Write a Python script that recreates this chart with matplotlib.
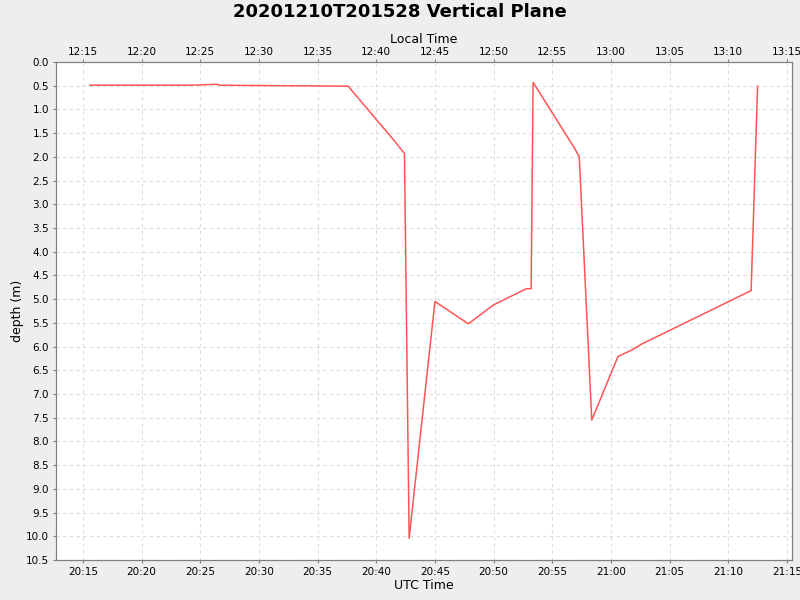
import matplotlib
matplotlib.use("Agg")
import matplotlib.pyplot as plt
import matplotlib.dates as mdates
import numpy as np
from datetime import datetime, timedelta

# 時刻 (UTC) と深度
utc_times = ["20:15:36", "20:24:00", "20:26:30", "20:26:36", "20:37:36",
             "20:41:30", "20:42:24", "20:42:48", "20:45:00", "20:47:51",
             "20:50:00", "20:52:48", "20:53:12", "20:53:22", "20:56:54",
             "20:57:18", "20:58:22", "21:00:36", "21:01:48", "21:02:36",
             "21:11:57", "21:12:30"]
depths = [0.49, 0.49, 0.47, 0.49, 0.51,
          1.65, 1.93, 10.04, 5.05, 5.52,
          5.12, 4.78, 4.78, 0.43, 1.82,
          2.00, 7.55, 6.21, 6.07, 5.95,
          4.82, 0.51]

day = "2020-12-10 "
t = [datetime.strptime(day + s, "%Y-%m-%d %H:%M:%S") for s in utc_times]
local_offset = timedelta(hours=-8)

x_min = datetime(2020, 12, 10, 20, 12, 42)
x_max = datetime(2020, 12, 10, 21, 15, 26)

fig = plt.figure(figsize=(8, 6), dpi=100, facecolor="#eeeeee")
ax = fig.add_axes([0.07, 0.0667, 0.92, 0.83])
ax.set_facecolor("white")

ax.plot(t, depths, color="#ff5555", linewidth=1.1)

ax.set_xlim(x_min, x_max)
ax.set_ylim(10.5, 0)
ax.set_yticks(np.arange(0, 10.51, 0.5))
ax.set_yticklabels([f"{v:.1f}" for v in np.arange(0, 10.51, 0.5)])
ax.xaxis.set_major_locator(mdates.MinuteLocator(byminute=range(0, 60, 5)))
ax.xaxis.set_major_formatter(mdates.DateFormatter("%H:%M"))
ax.grid(True, color="#dddddd", linestyle=(0, (3, 3)), linewidth=0.8)

ax.set_xlabel("UTC Time", fontsize=9)
ax.set_ylabel("depth (m)", fontsize=9)
ax.xaxis.set_label_coords(0.5, -0.038)
ax.yaxis.set_label_coords(-0.0435, 0.5)
ax.tick_params(labelsize=7.5, length=2, color="#808080", pad=3)

# 上の軸: ローカル時刻
top = ax.twiny()
top.set_xlim(x_min + local_offset, x_max + local_offset)
top.xaxis.set_major_locator(mdates.MinuteLocator(byminute=range(0, 60, 5)))
top.xaxis.set_major_formatter(mdates.DateFormatter("%H:%M"))
top.set_xlabel("Local Time", fontsize=9)
top.xaxis.set_label_coords(0.5, 1.038)
top.tick_params(labelsize=7.5, length=2, color="#808080", pad=1.6)

for a in (ax, top):
    for s in a.spines.values():
        s.set_color("#808080")

fig.text(0.5, 0.98, "20201210T201528 Vertical Plane", fontsize=13,
         fontweight="bold", ha="center", va="center")

fig.savefig("out.png", dpi=100, facecolor=fig.get_facecolor())
